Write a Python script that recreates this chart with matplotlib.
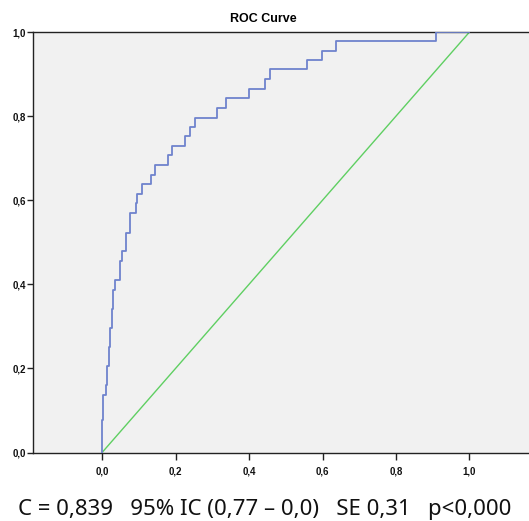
import matplotlib
matplotlib.use("Agg")
import matplotlib.pyplot as plt
import numpy as np

# ROC step vertices (1 - specificity, sensitivity)
fpr = [0.000, 0.000, 0.003, 0.011, 0.014, 0.018, 0.023, 0.027, 0.031, 0.035,
       0.049, 0.055, 0.065, 0.076, 0.092, 0.096, 0.108, 0.134, 0.144, 0.179,
       0.191, 0.227, 0.240, 0.253, 0.312, 0.337, 0.401, 0.443, 0.457, 0.558,
       0.598, 0.638, 0.909, 1.000]
tpr = [0.000, 0.000, 0.077, 0.137, 0.161, 0.206, 0.251, 0.296, 0.341, 0.386,
       0.410, 0.456, 0.479, 0.523, 0.569, 0.593, 0.615, 0.639, 0.661, 0.683,
       0.707, 0.730, 0.752, 0.775, 0.796, 0.819, 0.843, 0.865, 0.888, 0.911,
       0.933, 0.956, 0.978, 1.000]

ref_x = [0.0, 1.0]
ref_y = [0.0, 1.0]

x_ticks = [0.0, 0.2, 0.4, 0.6, 0.8, 1.0]
y_ticks = [0.0, 0.2, 0.4, 0.6, 0.8, 1.0]
tick_labels = ["0,0", "0,2", "0,4", "0,6", "0,8", "1,0"]

title = "ROC Curve"
caption = "C = 0,839   95% IC (0,77 \u2013 0,0)   SE 0,31   p<0,000"

W, H = 529, 521
fig = plt.figure(figsize=(W / 100, H / 100), dpi=100)
fig.patch.set_facecolor("white")

left_px, right_px, top_px, bottom_px = 33, 529, 32, 452.6
ax = fig.add_axes([left_px / W, 1 - bottom_px / H,
                   (right_px - left_px) / W, (bottom_px - top_px) / H])
ax.set_facecolor("#f1f1f1")

x0_px, unit_px = 102.0, 367.5
ax.set_xlim((left_px - x0_px) / unit_px, (right_px - x0_px) / unit_px)
ax.set_ylim(0, 1)

ax.plot(ref_x, ref_y, color="#5fcf62", lw=1.0, zorder=2)
ax.plot(fpr, tpr, color="#6f83cd", lw=1.3, drawstyle="steps-pre", zorder=3)

for s in ["left", "top", "bottom"]:
    ax.spines[s].set_color("#222222")
    ax.spines[s].set_linewidth(1.0)
ax.spines["right"].set_visible(False)

tick_font = dict(family=["Liberation Sans", "DejaVu Sans"], weight="bold", size=7)
ax.set_xticks(x_ticks)
ax.set_xticklabels(tick_labels, **tick_font)
ax.set_yticks(y_ticks)
ax.set_yticklabels(tick_labels, **tick_font)
ax.tick_params(axis="x", direction="out", length=5, width=1, pad=5, colors="#222222")
ax.tick_params(axis="y", direction="out", length=4, width=1, pad=1, colors="#222222")
for lab in ax.get_xticklabels() + ax.get_yticklabels():
    lab.set_color("#111111")

fig.text(263 / W, 1 - 19 / H, title, ha="center", va="center",
         family=["Liberation Sans", "DejaVu Sans"], weight="bold", size=9)

fig.text(265 / W, 1 - 515.5 / H, caption, ha="center", va="baseline",
         family=["Noto Sans", "DejaVu Sans"], size=16, color="#111111")

fig.savefig("out.png", dpi=100, facecolor="white")
